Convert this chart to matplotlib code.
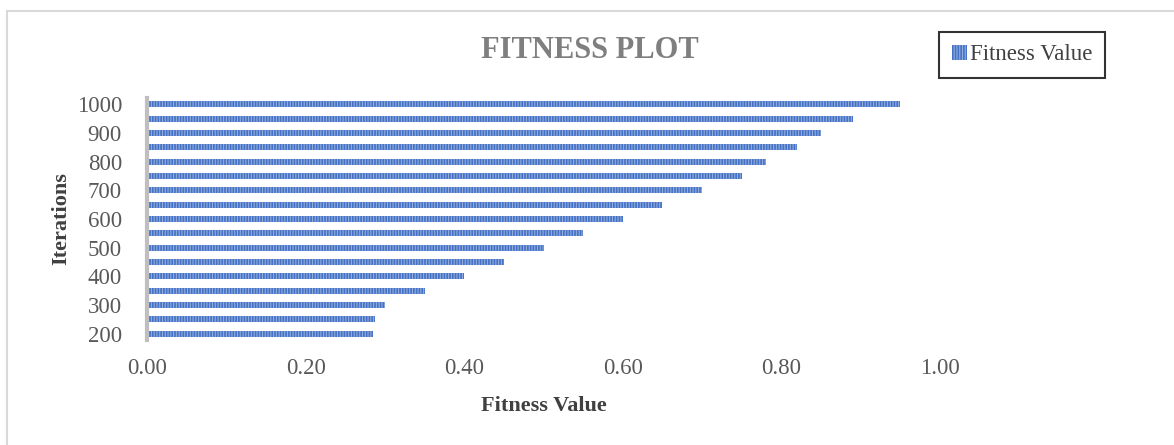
import matplotlib
matplotlib.use("Agg")
import matplotlib.pyplot as plt
from matplotlib.patches import Rectangle

iterations = [200, 250, 300, 350, 400, 450, 500, 550, 600, 650, 700, 750, 800, 850, 900, 950, 1000]
fitness = [0.285, 0.288, 0.30, 0.35, 0.40, 0.45, 0.50, 0.55, 0.60, 0.65, 0.70, 0.75, 0.78, 0.82, 0.85, 0.89, 0.95]
x_ticks = [0.0, 0.2, 0.4, 0.6, 0.8, 1.0]

plt.rcParams['font.family'] = ['Liberation Serif', 'DejaVu Serif']
plt.rcParams['hatch.linewidth'] = 0.8

fig = plt.figure(figsize=(11.74, 4.45), dpi=100)
fig.patch.set_facecolor('white')

# outer light border
fig.add_artist(Rectangle((7/1174, -0.1), 1.2, 1 - 11/445 + 0.1, transform=fig.transFigure,
                         fill=False, edgecolor='#D9D9D9', linewidth=1.5))

ax = fig.add_axes([147/1174, (445-340)/445, 793/1174, 242/445])
pos = list(range(len(iterations)))
ax.barh(pos, fitness, height=0.42, color='#4472C4', edgecolor='#92ACDF',
        linewidth=0, hatch='||||||', label='Fitness Value')
ax.set_xlim(0, 1)
ax.set_ylim(-0.45, len(iterations) - 0.55)

ax.set_xticks(x_ticks)
ax.set_xticklabels([f"{v:.2f}" for v in x_ticks])
ax.set_yticks(pos[::2])
ax.set_yticklabels([str(v) for v in iterations[::2]])
ax.tick_params(axis='both', length=0, labelsize=16.5, labelcolor='#595959')
ax.tick_params(axis='y', pad=18)
ax.tick_params(axis='x', pad=13)

for s in ['top', 'right', 'bottom']:
    ax.spines[s].set_visible(False)
ax.spines['left'].set_color('#BFBFBF')
ax.spines['left'].set_linewidth(3)

ax.set_xlabel('Fitness Value', fontsize=16, fontweight='bold', color='#404040', labelpad=12)
ax.set_ylabel('Iterations', fontsize=16, fontweight='bold', color='#404040', labelpad=4)

fig.text(590/1174, 1 - 50/445, 'FITNESS PLOT', ha='center', va='center',
         fontsize=22, fontweight='bold', color='#7F7F7F')

leg = fig.legend(loc='center', bbox_to_anchor=(1022/1174, 1 - 55/445), fontsize=16.5,
                 frameon=True, fancybox=False, handlelength=0.65, handleheight=0.65,
                 handletextpad=0.15, borderpad=0.55, borderaxespad=0)
leg.get_frame().set_edgecolor('black')
leg.get_frame().set_linewidth(1.5)
for t in leg.get_texts():
    t.set_color('#404040')

fig.savefig('out.png', dpi=100)
